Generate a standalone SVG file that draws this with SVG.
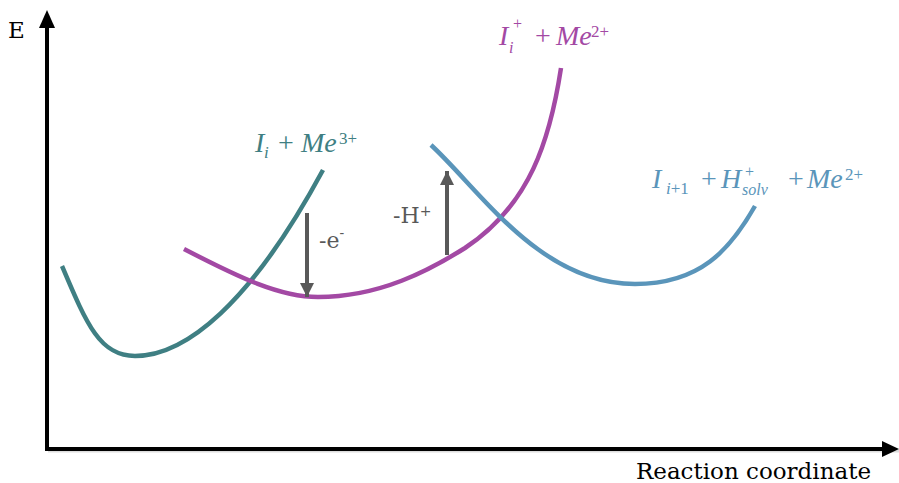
<svg xmlns="http://www.w3.org/2000/svg" width="899" height="483" viewBox="0 0 899 483">
<style>
.axis{stroke:#000;stroke-width:4;fill:none}
.curve{fill:none;stroke-width:4.5;stroke-linecap:butt}
.teal{stroke:#3f7f83}
.mag{stroke:#a349a4}
.blue{stroke:#5a95ba}
.step{stroke:#595959;stroke-width:4}
.lbl{font-family:"DejaVu Serif","Liberation Serif",serif;fill:#595959}
.math{font-family:"Liberation Serif","DejaVu Serif",serif;font-size:28px}
.it{font-style:italic}
.sm{font-size:17px}
.xs{font-size:16px}
</style>
<defs>
<marker id="ah" viewBox="0 0 10 10" refX="10" refY="5" markerWidth="3.6" markerHeight="3.6" orient="auto" markerUnits="strokeWidth">
<path d="M0,0 L10,5 L0,10 z" fill="#595959"/>
</marker>
</defs>
<g id="axes">
<line x1="48" y1="451" x2="900" y2="451" stroke="#ddd" stroke-width="3"/>
<line class="axis" x1="47" y1="451" x2="47" y2="26"/>
<polygon points="47,10 39,28 55,28" fill="#000"/>
<line class="axis" x1="45" y1="449" x2="884" y2="449"/>
<polygon points="899,449 882,441 882,457" fill="#000"/>
<text x="8" y="38" font-family="DejaVu Serif, Liberation Serif, serif" font-size="23" fill="#000">E</text>
<text x="636" y="479" font-family="DejaVu Serif, Liberation Serif, serif" font-size="22" fill="#000" textLength="235" lengthAdjust="spacingAndGlyphs">Reaction coordinate</text>
</g>
<g id="curves">
<path id="curve-teal" class="curve teal" d="M62,266 C87,325 100,356 135,356 C185,356 250,305 323,170"/>
<path id="curve-magenta" class="curve mag" d="M184,249 C240,278 280,297 318,297 C380,297 430,270 465,248 C530,205 550,140 561,68"/>
<path id="curve-blue" class="curve blue" d="M431,145 C480,190 540,284 635,284 C700,284 730,250 755,206"/>
</g>
<g id="connectors">
<line class="step" x1="307" y1="213" x2="307" y2="297" marker-end="url(#ah)"/>
<line class="step" x1="447" y1="255" x2="447" y2="171" marker-end="url(#ah)"/>
</g>
<g id="label-e">
<text class="lbl" x="319" y="248" font-size="22">-e<tspan dy="-10" font-size="14">-</tspan></text>
</g>
<g id="label-h">
<text class="lbl" x="393" y="223" font-size="22">-H<tspan dy="-7" font-size="14">+</tspan></text>
</g>
<g id="node-teal">
<text class="math" fill="#3f7f83" y="152"><tspan class="it" x="255">I</tspan><tspan class="it sm" x="264" y="158">i</tspan><tspan x="278" y="152">+</tspan><tspan class="it" x="301">Me</tspan><tspan class="sm" x="339" y="144">3+</tspan></text>
</g>
<g id="node-magenta">
<text class="math" fill="#a349a4" y="45"><tspan class="it" x="499">I</tspan><tspan class="it xs" x="509" y="53">i</tspan><tspan class="xs" x="513" y="29">+</tspan><tspan x="535" y="45">+</tspan><tspan class="it" x="556">Me</tspan><tspan class="sm" x="591" y="37">2+</tspan></text>
</g>
<g id="node-blue">
<text class="math" fill="#5a95ba" y="188"><tspan class="it" x="652">I</tspan><tspan class="sm" x="666" y="194"><tspan class="it">i</tspan>+1</tspan><tspan x="701" y="188">+</tspan><tspan class="it" x="721">H</tspan><tspan class="xs" x="745" y="177">+</tspan><tspan class="it xs" x="742" y="195">solv</tspan><tspan x="788" y="188">+</tspan><tspan class="it" x="807">Me</tspan><tspan class="sm" x="845" y="180">2+</tspan></text>
</g>
</svg>
